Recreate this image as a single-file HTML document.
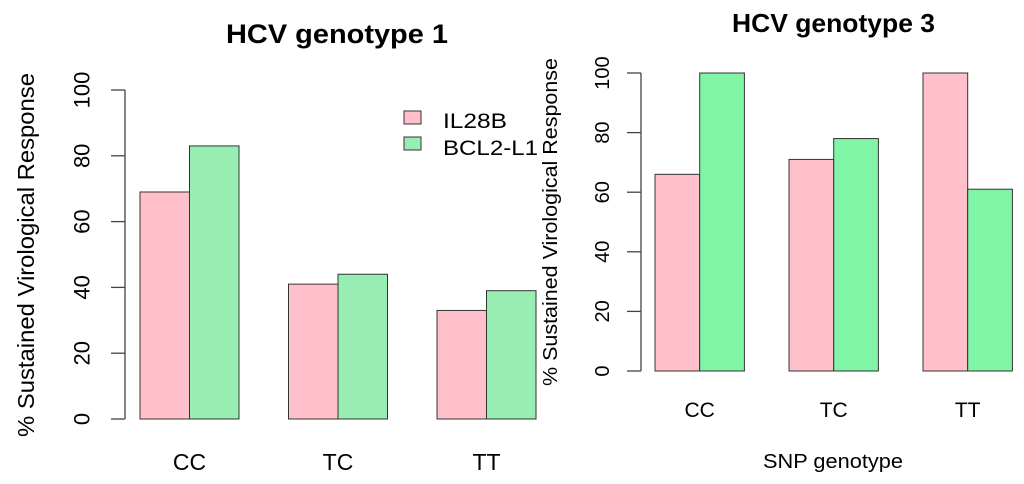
<!DOCTYPE html>
<html><head><meta charset="utf-8"><style>
html,body{margin:0;padding:0;background:#fff;}
svg{display:block;font-family:"Liberation Sans",Arial,sans-serif;}
</style></head><body>
<svg id="chart" width="1024" height="484" viewBox="0 0 1024 484">
<g id="p1"></g>
<g id="p2"></g>
</svg>
<script>
const categories = ["CC","TC","TT"];
const g1IL28B = [69, 41, 33];
const g1BCL2 = [83, 44, 39];
const g3IL28B = [66, 71, 100];
const g3BCL2 = [100, 78, 61];
const yTicks = [0, 20, 40, 60, 80, 100];
const seriesNames = ["IL28B", "BCL2-L1"];

const NS = "http://www.w3.org/2000/svg";
function mk(parent, tag, attrs, text){
  const e = document.createElementNS(NS, tag);
  for (const k in attrs) e.setAttribute(k, attrs[k]);
  if (text !== undefined) e.textContent = text;
  parent.appendChild(e);
  return e;
}

function panel(g, cfg, s1, s2){
  const y = v => cfg.y0 - (v/100)*(cfg.y0-cfg.y100);
  const t = mk(g,'text',{x:cfg.titleX,y:cfg.titleY,'font-size':cfg.titleFs,'font-weight':'bold',fill:'#000',textLength:cfg.titleW,lengthAdjust:'spacingAndGlyphs'},cfg.title);
  
  
  const ax = mk(g,'line',{x1:cfg.axX,x2:cfg.axX,y1:y(0),y2:y(100),stroke:'#444','stroke-width':1.3});
  
  
  yTicks.forEach(v=>{
    const tk = mk(g,'line',{x1:cfg.axX-14,x2:cfg.axX,y1:y(v),y2:y(v),stroke:'#444','stroke-width':1.3});
    
    
    const lx = cfg.lblX, ly = y(v);
    const lb = mk(g,'text',{x:lx,y:ly,'text-anchor':'middle','dominant-baseline':'central','font-size':cfg.tickFs,fill:'#000',transform:`rotate(-90 ${lx} ${ly})`},String(v));
    
    
  });
  const yl = mk(g,'text',{x:cfg.ytX,y:cfg.ytY,'text-anchor':'middle','dominant-baseline':'central','font-size':cfg.ytFs,fill:'#000',textLength:cfg.ytLen,lengthAdjust:'spacingAndGlyphs',transform:`rotate(-90 ${cfg.ytX} ${cfg.ytY})`},'% Sustained Virological Response');
  
  
  categories.forEach((c,i)=>{
    const x0 = cfg.bar0 + i*cfg.groupStep;
    const b1 = mk(g,'rect',{x:x0,y:y(s1[i]),width:cfg.bw,height:y(0)-y(s1[i]),fill:'#FFC0CB',stroke:'#333','stroke-width':1});
    
    
    const b2 = mk(g,'rect',{x:x0+cfg.bw,y:y(s2[i]),width:cfg.bw,height:y(0)-y(s2[i]),fill:cfg.green,stroke:'#333','stroke-width':1});
    
    
    const cl = mk(g,'text',{x:x0+cfg.bw,y:cfg.catY,'text-anchor':'middle','font-size':cfg.catFs,fill:'#000'},c);
    
    
  });
}

panel(document.getElementById('p1'),{title:'HCV genotype 1',titleX:226,titleY:43,titleFs:27,titleW:222,
  y0:419,y100:90,axX:125,lblX:82,tickFs:22,ytX:26,ytY:255,ytFs:23,ytLen:364,
  bar0:140,groupStep:148.5,bw:49.5,green:'#98EEB2',catY:470,catFs:23}, g1IL28B, g1BCL2);
panel(document.getElementById('p2'),{title:'HCV genotype 3',titleX:732,titleY:32,titleFs:26,titleW:203,
  y0:371,y100:73,axX:641,lblX:603,tickFs:20,ytX:551,ytY:222,ytFs:20,ytLen:328,
  bar0:655,groupStep:134,bw:44.7,green:'#7FF5A5',catY:417,catFs:21}, g3IL28B, g3BCL2);

const p2 = document.getElementById('p2');
const xt = mk(p2,'text',{x:763,y:468,'font-size':20,fill:'#000',textLength:140,lengthAdjust:'spacingAndGlyphs'},'SNP genotype');



const lg = mk(document.getElementById('p1'),'g',{});


const lcol = ['#FFC0CB','#98EEB2'];
const lw = [64, 95];
seriesNames.forEach((n,i)=>{
  const e = mk(lg,'g',{});
  
  
  mk(e,'rect',{x:404,y:111+i*26,width:17,height:13,fill:lcol[i],stroke:'#333','stroke-width':1});
  mk(e,'text',{x:443,y:128+i*27,'font-size':21,fill:'#000',textLength:lw[i],lengthAdjust:'spacingAndGlyphs'},n);
});
</script>
</body></html>
